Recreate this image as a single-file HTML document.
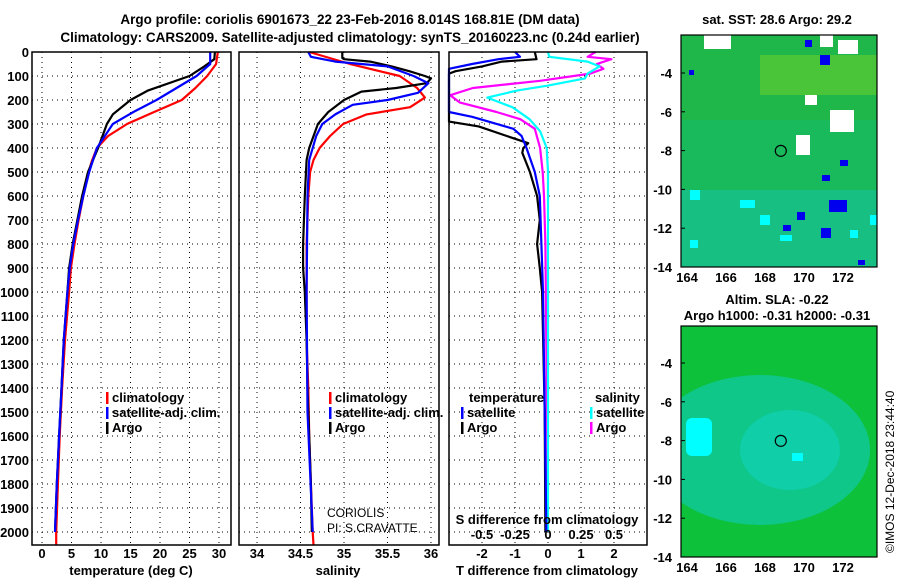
<!DOCTYPE html>
<html><head><meta charset="utf-8"><style>
body{margin:0;background:#fff;width:900px;height:580px;overflow:hidden;font-family:"Liberation Sans",sans-serif}
svg text{font-family:"Liberation Sans",sans-serif;font-weight:bold;font-size:13px;fill:#000}
</style></head><body>
<svg id="c" width="900" height="580">
<defs>
<clipPath id="clipTop"><rect x="681" y="35" width="196" height="232"/></clipPath>
<clipPath id="clipBot"><rect x="681" y="326" width="196" height="231"/></clipPath>
</defs>
<text x="350" y="24" text-anchor="middle" style="font-size:13.5px">Argo profile: coriolis 6901673_22 23-Feb-2016 8.014S 168.81E (DM data)</text>
<text x="350" y="42" text-anchor="middle" style="font-size:13.5px">Climatology: CARS2009. Satellite-adjusted climatology: synTS_20160223.nc (0.24d earlier)</text>
</svg>
<script>
// ---- data ----
const depthTicks=[0,100,200,300,400,500,600,700,800,900,1000,1100,1200,1300,1400,1500,1600,1700,1800,1900,2000];
const tempTicks=[0,5,10,15,20,25,30];
const salTicks=[34,34.5,35,35.5,36];
const tdTicks=[-2,-1,0,1,2];
const sdTicks=[-0.5,-0.25,0,0.25,0.5];
const sdTickLabels=["-0.5","-0.25","0","0.25","0.5"];

const tClimD=[0,50,100,150,200,250,300,350,400,450,500,600,700,800,900,1000,1200,1400,1600,1800,2000,2055];
const tClim=[29.8,29.5,28,26,23.7,19,14.4,11.2,9.3,8.5,7.9,7,6.2,5.5,4.9,4.6,3.9,3.4,3.0,2.7,2.4,2.4];
const tArgoD=[0,30,60,100,160,200,260,300,400,500,600,700,800,900,1000,1200,1400,1600,1800,2000];
const tArgo=[29.3,29.2,27.5,25,18,15,12,11,9.5,7.8,6.8,6.0,5.2,4.6,4.3,3.7,3.3,2.9,2.5,2.2];
const tSatD=[0,50,100,200,250,300,400,500,600,700,800,900,1000,1200,1400,1600,1800,2000];
const tSat=[28.5,28.5,26.2,19.4,15.5,12,9.3,8,7,6.1,5.3,4.7,4.3,3.7,3.3,2.9,2.5,2.2];

const sClimD=[0,50,100,150,190,230,260,300,350,400,450,500,600,800,1000,1200,1400,1600,1800,2000,2055];
const sClim=[34.6,35.07,35.64,35.84,35.93,35.76,35.26,34.99,34.84,34.72,34.65,34.61,34.59,34.57,34.57,34.57,34.59,34.6,34.62,34.64,34.65];
const sArgoD=[0,25,30,40,60,80,100,110,130,150,165,200,250,300,400,450,600,800,900,1000,1200,1400,1600,1800,2000];
const sArgo=[34.98,34.98,35.0,35.3,35.55,35.75,35.93,36.0,35.95,35.6,35.2,35.0,34.82,34.7,34.6,34.57,34.55,34.53,34.53,34.55,34.57,34.58,34.6,34.62,34.63];
const sSatD=[0,20,40,60,100,130,170,200,220,260,300,350,450,600,1000,1500,2000];
const sSat=[34.59,34.62,34.9,35.5,35.8,35.97,35.85,35.5,35.1,34.9,34.75,34.68,34.6,34.58,34.57,34.58,34.64];

const dTArgoD=[0,30,40,60,80,90,280,290,310,350,380,400,420,500,600,700,800,900,1000,1500,2000];
const dTArgo=[-0.4,-0.35,-1.4,-2.0,-2.8,-3,-3,-3,-2.1,-1.25,-0.6,-0.75,-0.78,-0.55,-0.33,-0.25,-0.33,-0.25,-0.18,-0.1,-0.08];
const dTSatD=[0,20,30,50,70,250,270,320,350,400,500,600,800,1000,2000];
const dTSat=[-1.0,-0.85,-1.5,-2.3,-3,-3,-2.3,-1.05,-0.8,-0.65,-0.4,-0.25,-0.2,-0.15,-0.05];
const dSArgoD=[0,20,30,50,70,90,120,150,180,210,250,280,320,400,500,600,800,2000];
const dSArgo=[0.36,0.3,0.48,0.37,0.42,0.32,-0.06,-0.57,-0.74,-0.67,-0.39,-0.21,-0.1,-0.06,-0.04,-0.03,-0.02,0.0];
const dSSatD=[0,20,40,60,90,110,140,160,190,230,280,330,400,500,2000];
const dSSat=[0,0.01,0.3,0.39,0.3,0.28,0.0,-0.23,-0.46,-0.27,-0.14,-0.06,-0.01,0.0,0.0];

// ---- layout ----
const NS="http://www.w3.org/2000/svg";
const svg=document.getElementById('c');
const Y0=52,PYB=545;
const yD=d=>Y0+d*0.24;
const xT=v=>42+v*5.9;
const xS=v=>257+(v-34)*87;
const xTD=v=>548+v*33;
const xSD=v=>548+v*132;
const panels=[[32,231],[239,439],[449,647]];
function el(tag,attrs,parent){const e=document.createElementNS(NS,tag);for(const k in attrs)e.setAttribute(k,attrs[k]);(parent||svg).appendChild(e);return e;}
function txt(x,y,s,anchor,extra){const t=el('text',Object.assign({x:x,y:y,'text-anchor':anchor||'start'},extra||{}));t.textContent=s;return t;}

const gPanels=el('g',{});


panels.forEach((p,i)=>{
  const g=el('g',{},gPanels);
  
  
  depthTicks.forEach(d=>{el('line',{x1:p[0],x2:p[1],y1:yD(d),y2:yD(d),stroke:'#000','stroke-width':1,'stroke-dasharray':'1,4'},g);});
});
function vgrid(vals,fx,name){vals.forEach(v=>{const l=el('line',{x1:fx(v),x2:fx(v),y1:Y0,y2:PYB,stroke:'#000','stroke-width':1,'stroke-dasharray':'1,4'},gPanels);});}
vgrid(tempTicks,xT,'temp-gridline');vgrid(salTicks,xS,'sal-gridline');vgrid(tdTicks,xTD,'tdiff-gridline');

depthTicks.forEach(d=>{const t=txt(29,yD(d)+5,String(d),'end');});
tempTicks.forEach(v=>{const t=txt(xT(v),558,String(v),'middle');});
salTicks.forEach(v=>{const t=txt(xS(v),558,String(v),'middle');});
tdTicks.forEach(v=>{const t=txt(xTD(v),558,String(v),'middle');});
sdTicks.forEach((v,i)=>{const t=txt(xSD(v),539,sdTickLabels[i],'middle');});
let t;
t=txt(131,575,'temperature (deg C)','middle');
t=txt(338,575,'salinity','middle');
t=txt(547,575,'T difference from climatology','middle');
t=txt(547,524,'S difference from climatology','middle');
t=txt(327,517,'CORIOLIS','start',{style:'font-weight:normal;font-size:12px'});

t=txt(327,532,'PI: S.CRAVATTE','start',{style:'font-weight:normal;font-size:12px'});


function series(ds,vs,fx,color,name,clip){
  const pts=ds.map((d,i)=>Math.max(clip[0],Math.min(clip[1],fx(vs[i]))).toFixed(1)+','+Math.min(PYB,yD(d)).toFixed(1)).join(' ');
  const pl=el('polyline',{points:pts,fill:'none',stroke:color,'stroke-width':2.2,'stroke-linejoin':'round'},gPanels);
  
  
}
const c1=[32,231],c2=[239,439],c3=[449,647];
series(tClimD,tClim,xT,'#f00','temp-climatology-line',c1);
series(tArgoD,tArgo,xT,'#000','temp-argo-line',c1);
series(tSatD,tSat,xT,'#00f','temp-satellite-line',c1);
series(sClimD,sClim,xS,'#f00','sal-climatology-line',c2);
series(sArgoD,sArgo,xS,'#000','sal-argo-line',c2);
series(sSatD,sSat,xS,'#00f','sal-satellite-line',c2);
series(dSArgoD,dSArgo,xSD,'#f0f','sdiff-argo-line',c3);
series(dSSatD,dSSat,xSD,'#0ff','sdiff-satellite-line',c3);
series(dTArgoD,dTArgo,xTD,'#000','tdiff-argo-line',c3);
series(dTSatD,dTSat,xTD,'#00f','tdiff-satellite-line',c3);

panels.forEach((p,i)=>{const r=el('rect',{x:p[0],y:Y0,width:p[1]-p[0],height:PYB-Y0,fill:'none',stroke:'#000','stroke-width':1.5},gPanels);});

function legend(x,y,color,label,name){
  const g=el('g',{},gPanels);
  
  
  el('rect',{x:x,y:y-10,width:2.5,height:12,fill:color},g);
  const tt=el('text',{x:x+6,y:y},g);tt.textContent=label;
}
legend(106,402,'#f00','climatology','legend-temp-climatology');
legend(106,417,'#00f','satellite-adj. clim.','legend-temp-satellite');
legend(106,432,'#000','Argo','legend-temp-argo');
legend(329,402,'#f00','climatology','legend-sal-climatology');
legend(329,417,'#00f','satellite-adj. clim.','legend-sal-satellite');
legend(329,432,'#000','Argo','legend-sal-argo');
t=txt(469,402,'temperature');
legend(461,417,'#00f','satellite','legend-tdiff-satellite');
legend(461,432,'#000','Argo','legend-tdiff-argo');
t=txt(595,402,'salinity');
legend(590,417,'#0ff','satellite','legend-sdiff-satellite');
legend(590,432,'#f0f','Argo','legend-sdiff-argo');

// ---- maps ----
const mapLonTicks=[164,166,168,170,172];
const mapLatTicks=[-4,-6,-8,-10,-12,-14];
const xLon=v=>687+(v-164)*19.5;
function mapFrame(top,bottom,name,clipId,fills){
  const g=el('g',{});
  
  
  const yLat=v=>bottom-(v+14)*19.4;
  const fg=el('g',{'clip-path':'url(#'+clipId+')'},g);
  fills(fg,top,bottom);
  el('rect',{x:681,y:top,width:196,height:bottom-top,fill:'none',stroke:'#000','stroke-width':1.2},g);
  mapLatTicks.forEach(v=>{if(yLat(v)>=top){const tt=el('text',{x:672,y:yLat(v)+5,'text-anchor':'end'},g);tt.textContent=String(v);el('line',{x1:681,x2:685,y1:yLat(v),y2:yLat(v),stroke:'#000'},g);}});
  mapLonTicks.forEach(v=>{const tt=el('text',{x:xLon(v),y:bottom+15,'text-anchor':'middle'},g);tt.textContent=String(v);});
  const c=el('circle',{cx:xLon(168.81),cy:yLat(-8.014),r:5.5,fill:'none',stroke:'#000','stroke-width':1.2},g);
  
}
mapFrame(35,267,'sst-map','clipTop',(g,top,bot)=>{
  el('rect',{x:681,y:top,width:196,height:bot-top,fill:'#1fb64a'},g);
  el('rect',{x:681,y:190,width:196,height:77,fill:'#14c49a',opacity:0.7},g);
  el('rect',{x:681,y:120,width:196,height:70,fill:'#10be70',opacity:0.45},g);
  el('rect',{x:760,y:55,width:117,height:40,fill:'#9ae21a',opacity:0.35},g);
  [[704,35,27,14],[820,35,13,12],[838,40,20,14],[796,135,14,20],[830,110,24,22],[805,95,12,10]].forEach(r=>el('rect',{x:r[0],y:r[1],width:r[2],height:r[3],fill:'#fff'},g));
  [[805,40,7,7],[820,55,10,10],[829,200,18,12],[822,175,8,6],[797,212,8,8],[840,160,8,6],[821,228,10,10],[783,225,8,6],[689,70,5,5],[858,260,7,5]].forEach(r=>el('rect',{x:r[0],y:r[1],width:r[2],height:r[3],fill:'#0000ee'},g));
  [[690,190,10,10],[740,200,15,8],[760,215,10,10],[870,215,7,10],[690,240,8,8],[780,235,12,6],[850,230,8,8]].forEach(r=>el('rect',{x:r[0],y:r[1],width:r[2],height:r[3],fill:'#00ffff'},g));
});
const sstT=el('text',{x:777,y:24,'text-anchor':'middle'});sstT.textContent='sat. SST: 28.6 Argo: 29.2';

const slaT=el('text',{x:777,y:304,'text-anchor':'middle'});slaT.textContent='Altim. SLA: -0.22';

const slaT2=el('text',{x:777,y:320,'text-anchor':'middle'});slaT2.textContent='Argo h1000: -0.31 h2000: -0.31';

mapFrame(326,557,'sla-map','clipBot',(g,top,bot)=>{
  el('rect',{x:681,y:top,width:196,height:bot-top,fill:'#0dc13a'},g);
  el('ellipse',{cx:760,cy:450,rx:110,ry:75,fill:'#10c896',opacity:0.85},g);
  el('ellipse',{cx:790,cy:450,rx:50,ry:40,fill:'#0fd0b0',opacity:0.8},g);
  el('rect',{x:686,y:418,width:26,height:38,rx:6,fill:'#00ffff'},g);
  el('rect',{x:792,y:453,width:11,height:8,fill:'#00ffff'},g);
});
const cp=el('text',{x:0,y:0,transform:'translate(894,553) rotate(-90)',style:'font-weight:normal;font-size:12px'});
cp.textContent='©IMOS 12-Dec-2018 23:44:40';

</script>
</body></html>
